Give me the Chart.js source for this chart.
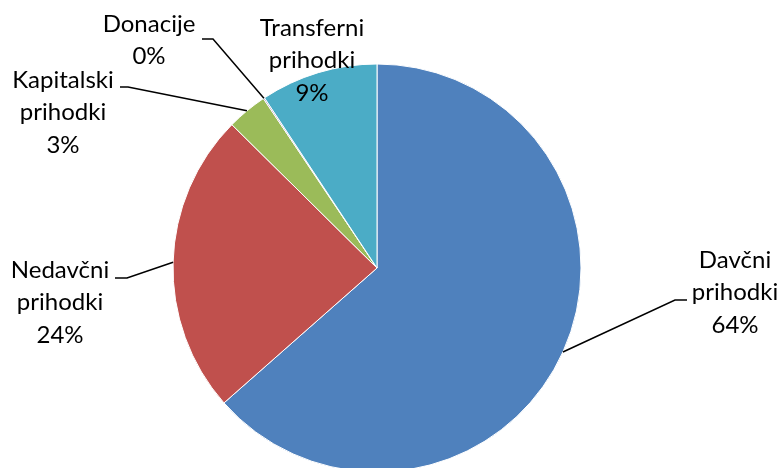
<!DOCTYPE html>
<html>
<head>
<meta charset="utf-8">
<script src="https://cdn.jsdelivr.net/npm/chart.js@4/dist/chart.umd.min.js"></script>
<style>
html,body{margin:0;padding:0;background:#fff;width:780px;height:468px;overflow:hidden;}
canvas{display:block;}
</style>
</head>
<body>
<canvas id="c" width="780" height="468"></canvas>
<script>
const categories = ["Davčni prihodki", "Nedavčni prihodki", "Kapitalski prihodki", "Donacije", "Transferni prihodki"];
const labelLines = [["Davčni", "prihodki"], ["Nedavčni", "prihodki"], ["Kapitalski", "prihodki"], ["Donacije"], ["Transferni", "prihodki"]];
const values = [63.5, 23.9, 3.2, 0.1, 9.3];
const colors = ["#4F81BD", "#C0504D", "#9BBB59", "#8064A2", "#4BACC6"];

// label layout: text centre x, first line centre y, elbow point, tail end x (null = no leader)
const labelLayout = [
  {cx: 735, cy: 260, ex: 675, ey: 300, tx: 687},
  {cx: 60,  cy: 270, ex: 127, ey: 278, tx: 115},
  {cx: 63,  cy: 80,  ex: 128, ey: 87,  tx: 120},
  {cx: 149, cy: 24,  ex: 213, ey: 39,  tx: 202},
  {cx: 312, cy: 28,  ex: null}
];
const FONT = '24px Lato';
const LINE_H = 32.5;

const labelPlugin = {
  id: 'pieLabels',
  afterDraw(chart) {
    const ctx = chart.ctx;
    const meta = chart.getDatasetMeta(0);
    const data = chart.data.datasets[0].data;
    const total = data.reduce((a, b) => a + b, 0);
    ctx.save();
    meta.data.forEach((arc, i) => {
      const L = labelLayout[i];
      const p = arc.getProps(['x', 'y', 'startAngle', 'endAngle', 'outerRadius'], true);
      const mid = (p.startAngle + p.endAngle) / 2;
      const ax = p.x + Math.cos(mid) * p.outerRadius;
      const ay = p.y + Math.sin(mid) * p.outerRadius;
      if (L.ex !== null) {
        ctx.strokeStyle = '#000';
        ctx.lineWidth = 1.5;
        ctx.beginPath();
        ctx.moveTo(ax, ay);
        ctx.lineTo(L.ex, L.ey);
        ctx.lineTo(L.tx, L.ey);
        ctx.stroke();
      }
      const lines = labelLines[i].concat([Math.round(data[i] / total * 100) + '%']);
      ctx.fillStyle = '#000';
      ctx.font = FONT;
      ctx.textAlign = 'center';
      ctx.textBaseline = 'middle';
      lines.forEach((t, k) => ctx.fillText(t, L.cx, L.cy + k * LINE_H));
    });
    ctx.restore();
  }
};

new Chart(document.getElementById('c'), {
  type: 'pie',
  data: {
    labels: categories,
    datasets: [{
      data: values,
      backgroundColor: colors,
      borderColor: '#ffffff',
      borderWidth: 1,
      radius: 204
    }]
  },
  options: {
    responsive: false,
    animation: false,
    layout: {padding: {top: 68, bottom: 0, left: 0, right: 26}},
    plugins: {legend: {display: false}, tooltip: {enabled: false}}
  },
  plugins: [labelPlugin]
});
</script>
</body>
</html>
